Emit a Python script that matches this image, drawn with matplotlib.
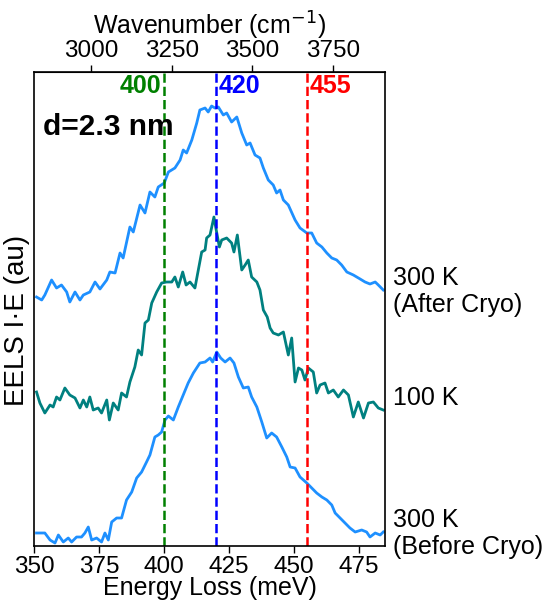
import matplotlib
matplotlib.use("Agg")
import matplotlib.pyplot as plt
import numpy as np

plt.rcParams['font.family'] = ['Liberation Sans', 'DejaVu Sans']

# energy loss (meV) and EELS I*E (au), curves already stacked with their offsets
e_before = [351.0, 354.2, 356.2, 358.1, 359.4, 361.3, 363.2, 364.5, 366.4, 368.3, 369.6, 370.9,
            372.2, 374.1, 376.0, 377.3, 378.6, 379.9, 381.8, 383.7, 385.6, 387.6, 389.5, 391.4,
            393.3, 394.6, 396.5, 397.8, 399.1, 400.4, 401.7, 403.6, 405.5, 407.4, 409.3, 411.3,
            413.8, 415.8, 417.7, 418.7, 420.3, 421.8, 423.5, 425.4, 426.9, 428.6, 430.5, 432.4,
            433.7, 435.7, 437.6, 439.5, 441.4, 443.3, 445.3, 447.2, 448.5, 450.4, 452.3, 454.9,
            456.8, 458.7, 460.7, 462.6, 464.5, 465.8, 467.7, 469.6, 471.5, 473.5, 476.0, 477.9,
            479.2, 481.2, 483.1, 484.3]
i_before = [0.13, 0.13, 0.06, 0.03, 0.11, 0.04, 0.08, 0.04, 0.09, 0.09, 0.13, 0.19,
            0.06, 0.08, 0.04, 0.13, 0.06, 0.24, 0.28, 0.28, 0.46, 0.54, 0.68, 0.74,
            0.84, 0.91, 1.09, 1.11, 1.14, 1.26, 1.30, 1.26, 1.39, 1.51, 1.63, 1.73,
            1.83, 1.84, 1.88, 1.84, 1.94, 1.88, 1.84, 1.88, 1.83, 1.69, 1.58, 1.59,
            1.49, 1.39, 1.24, 1.08, 1.13, 1.09, 0.99, 0.89, 0.79, 0.78, 0.69, 0.63,
            0.58, 0.53, 0.49, 0.46, 0.41, 0.33, 0.28, 0.23, 0.18, 0.14, 0.16, 0.14,
            0.09, 0.13, 0.11, 0.14]

e_cold = [351.0, 352.3, 354.2, 356.2, 357.4, 358.7, 360.0, 361.9, 363.8, 365.8, 367.7, 369.0,
          370.3, 371.5, 372.8, 374.7, 376.0, 378.0, 379.0, 380.5, 382.4, 383.7, 385.6, 386.9,
          388.8, 390.1, 391.4, 392.7, 394.0, 395.3, 397.2, 399.1, 401.0, 403.0, 404.2, 405.5,
          407.2, 408.5, 410.0, 411.9, 413.2, 414.5, 415.8, 416.4, 417.7, 419.2, 420.3, 421.3,
          422.2, 424.1, 426.0, 426.9, 428.2, 429.9, 431.2, 432.4, 433.7, 435.7, 436.9, 438.2,
          439.7, 440.8, 442.0, 444.0, 445.9, 447.8, 449.1, 450.4, 451.7, 453.0, 454.2, 455.5,
          457.4, 458.7, 460.0, 461.9, 463.2, 465.1, 467.0, 469.0, 470.9, 472.8, 474.7, 476.7,
          478.6, 480.5, 482.4, 484.3]
i_cold = [1.54, 1.43, 1.33, 1.41, 1.39, 1.49, 1.46, 1.58, 1.51, 1.48, 1.38, 1.46,
          1.39, 1.49, 1.36, 1.38, 1.33, 1.46, 1.26, 1.43, 1.36, 1.53, 1.49, 1.64,
          1.79, 1.96, 1.91, 2.23, 2.26, 2.43, 2.54, 2.63, 2.64, 2.64, 2.69, 2.59,
          2.74, 2.61, 2.64, 2.58, 2.76, 2.94, 2.96, 3.08, 3.11, 3.29, 3.13, 2.99,
          3.06, 3.08, 3.03, 2.94, 3.11, 2.76, 2.81, 2.86, 2.69, 2.64, 2.56, 2.36,
          2.29, 2.18, 2.13, 2.11, 2.14, 1.91, 2.08, 1.64, 1.78, 1.76, 1.66, 1.78,
          1.74, 1.53, 1.61, 1.63, 1.53, 1.56, 1.49, 1.56, 1.51, 1.29, 1.44, 1.28,
          1.43, 1.44, 1.38, 1.36]

e_after = [351.0, 353.0, 354.2, 356.8, 358.7, 360.6, 362.6, 363.8, 365.8, 367.7, 369.0, 371.5,
           373.5, 375.4, 378.0, 379.2, 381.2, 383.1, 384.3, 386.9, 388.2, 390.8, 392.7, 394.6,
           396.5, 397.8, 400.1, 401.7, 404.2, 406.2, 407.4, 408.7, 410.7, 412.6, 413.8, 415.8,
           417.0, 418.3, 419.6, 420.9, 422.8, 424.1, 426.0, 428.0, 429.9, 431.8, 433.1, 435.0,
           436.9, 438.2, 440.1, 442.0, 443.3, 444.6, 445.9, 447.8, 450.4, 452.3, 454.9, 456.8,
           458.7, 460.7, 462.6, 464.5, 466.4, 468.3, 470.3, 472.8, 475.4, 477.3, 479.2, 481.2,
           482.4, 484.3]
i_after = [2.49, 2.46, 2.51, 2.66, 2.58, 2.61, 2.54, 2.44, 2.54, 2.46, 2.51, 2.54,
           2.64, 2.57, 2.66, 2.74, 2.73, 2.93, 2.88, 3.19, 3.14, 3.41, 3.33, 3.54,
           3.49, 3.59, 3.63, 3.74, 3.78, 3.86, 3.96, 3.93, 4.06, 4.23, 4.36, 4.38,
           4.34, 4.40, 4.38, 4.39, 4.31, 4.33, 4.24, 4.29, 4.13, 4.01, 4.03, 3.91,
           3.88, 3.78, 3.66, 3.61, 3.53, 3.56, 3.46, 3.41, 3.26, 3.18, 3.13, 3.13,
           3.03, 2.99, 2.93, 2.88, 2.86, 2.81, 2.74, 2.71, 2.67, 2.64, 2.62, 2.64,
           2.61, 2.56]

peaks = [400, 420, 455]
peak_colors = ['green', 'blue', 'red']
labels = ['300 K\n(After Cryo)', '100 K', '300 K\n(Before Cryo)']
label_y = [2.80, 1.48, 0.38]

fig = plt.figure(figsize=(5.47, 6), dpi=100)
ax = fig.add_axes([0.062, 0.09, 0.642, 0.79])

ax.plot(e_before, i_before, color='#1E90FF', lw=2)
ax.plot(e_cold, i_cold, color='teal', lw=2)
ax.plot(e_after, i_after, color='#1E90FF', lw=2)

for p, c in zip(peaks, peak_colors):
    ax.axvline(p, color=c, ls='--', lw=1.8)
ax.text(399, 4.6, '400', color='green', fontsize=18, fontweight='bold', ha='right', va='center')
ax.text(421, 4.6, '420', color='blue', fontsize=18, fontweight='bold', ha='left', va='center')
ax.text(456, 4.6, '455', color='red', fontsize=18, fontweight='bold', ha='left', va='center')
ax.text(353.5, 4.19, 'd=2.3 nm', fontsize=21.5, fontweight='bold', ha='left', va='center')

for lab, y in zip(labels, label_y):
    ax.text(488, y, lab, fontsize=18, ha='left', va='top' if '\n' in lab else 'center',
            clip_on=False, linespacing=1.15)

ax.set_xlim(350, 485)
ax.set_ylim(0, 4.74)
ax.set_xticks([350, 375, 400, 425, 450, 475])
ax.set_yticks([])
ax.tick_params(axis='x', labelsize=17.5, length=5, width=1, pad=2)
ax.set_xlabel('Energy Loss (meV)', fontsize=18, labelpad=-1)
ax.set_ylabel('EELS I·E (au)', fontsize=20)
ax.yaxis.set_label_coords(-0.012, 0.475)

top = ax.secondary_xaxis('top', functions=(lambda x: x * 8.0655, lambda w: w / 8.0655))
top.set_xticks([3000, 3250, 3500, 3750])
top.tick_params(labelsize=17.5, length=5, width=1, pad=2)
top.set_xlabel('Wavenumber (cm$^{-1}$)', fontsize=18, labelpad=4)

for s in ax.spines.values():
    s.set_linewidth(1.2)

fig.savefig('out.png', dpi=100)
